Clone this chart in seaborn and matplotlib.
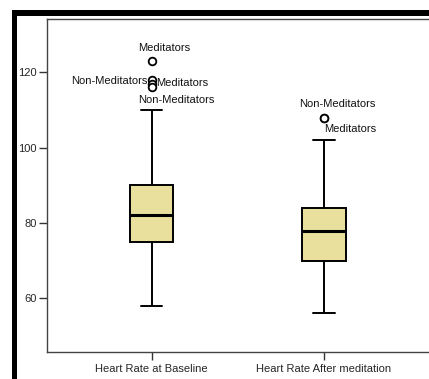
import numpy as np
import pandas as pd
import seaborn as sns
import matplotlib.pyplot as plt
from matplotlib.patches import Rectangle

#========================= Values =============================================
categories = ['Heart Rate at Baseline', 'Heart Rate After meditation']
whisker_low = [58, 56]
q1 = [75, 70]
median = [82, 78]
q3 = [90, 84]
whisker_high = [110, 102]
outliers = [[123, 118, 117, 116], [108, 108]]
outlier_labels = [['Meditators', 'Non-Meditators', 'Meditators', 'Non-Meditators'],
                  ['Non-Meditators', 'Meditators']]

# label placement (pixel offsets from the point, horizontal alignment)
label_offsets = [[(-14, 13.5, 'left'), (-4.5, -1, 'right'), (4.5, 1, 'left'), (-14, -12.5, 'left')],
                 [(-25, 13.5, 'left'), (0, -11, 'left')]]

#========================= Build a sample with those stats ====================
# repeated values keep the quartiles fixed once the outliers are added
rows = []
for i, cat in enumerate(categories):
    vals = ([whisker_low[i]] + [q1[i]] * 10 + [median[i]] * 10 + [q3[i]] * 10
            + [whisker_high[i]] + outliers[i])
    for v in vals:
        rows.append({'measure': cat, 'hr': v})
df = pd.DataFrame(rows)

#========================= Plot ===============================================
sns.set_style('white')
plt.rcParams['font.family'] = ['Liberation Sans', 'DejaVu Sans']

W, H = 429, 379
fig = plt.figure(figsize=(W / 100, H / 100), dpi=100)
ax = fig.add_axes([46.7 / W, (H - 351.7) / H, (431 - 46.7) / W, (351.7 - 19) / H])

sns.boxplot(data=df, x='measure', y='hr', order=categories, ax=ax,
            color='#E8E09C', saturation=1, width=0.25, linecolor='black',
            linewidth=1.4, fliersize=5.5,
            medianprops=dict(linewidth=2.2, color='black'),
            flierprops=dict(marker='o', markerfacecolor='white',
                            markeredgecolor='black', markeredgewidth=1.3))

for i in range(len(categories)):
    for val, lab, (dx, dy, ha) in zip(outliers[i], outlier_labels[i], label_offsets[i]):
        ax.annotate(lab, xy=(i, val), xytext=(dx, dy), textcoords='offset pixels',
                    ha=ha, va='center', fontsize=8, color='#111111')

ax.set_xlim(-0.6094, 1.621)
ax.set_ylim(45.8, 134.2)
ax.set_yticks([60, 80, 100, 120])
ax.set_xlabel('')
ax.set_ylabel('')
ax.tick_params(axis='both', which='both', direction='out', length=5.5, width=1,
               color='#333333', labelsize=8, pad=1.5, left=True, bottom=True)
ax.tick_params(axis='x', pad=3)
for s in ax.spines.values():
    s.set_color('#444444')
    s.set_linewidth(1)

# thick black frame on the left and top of the picture
fig.add_artist(Rectangle((11.7 / W, 0), 5 / W, (H - 10) / H,
                         transform=fig.transFigure, color='black', lw=0))
fig.add_artist(Rectangle((11.7 / W, (H - 16) / H), (W - 11.7) / W, 6 / H,
                         transform=fig.transFigure, color='black', lw=0))

fig.savefig('out.png', dpi=100)
